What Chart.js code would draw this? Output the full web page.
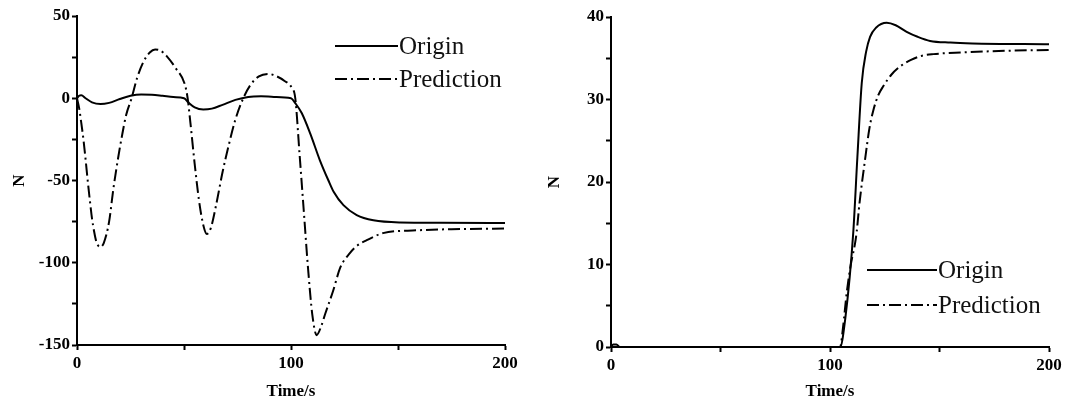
<!DOCTYPE html>
<html>
<head>
<meta charset="utf-8">
<script src="https://cdn.jsdelivr.net/npm/chart.js@4"></script>
<style>
  html, body { margin: 0; padding: 0; background: #fff; }
  #wrap { display: flex; width: 1070px; height: 405px; }
  canvas { display: block; }
</style>
</head>
<body>
<div id="wrap">
  <canvas id="left" width="535" height="405"></canvas>
  <canvas id="right" width="535" height="405"></canvas>
</div>
<script>
// ---------- data ----------
const seriesNames = ["Origin", "Prediction"];
const xAxisTitle = "Time/s";
const yAxisTitle = "N";

// Left panel
const leftOriginX = [0, 1, 2, 4, 7, 11, 15, 20, 25, 30, 35, 40, 45, 50, 52, 55, 59, 63, 68, 74, 80, 86, 92, 100, 102, 105, 109, 113.5, 117.5, 120, 124.5, 130.7, 138.5, 151, 170, 200];
const leftOriginY = [0, 1.5, 1.8, 0, -2.5, -3.5, -2.8, -0.5, 1.5, 2.3, 2.2, 1.5, 0.7, 0, -2.5, -5.5, -6.8, -6.3, -4, -1, 0.8, 1.2, 0.8, 0, -3, -9, -21.5, -37.7, -50, -57, -65, -71, -74.2, -75.5, -75.7, -75.8];
const leftPredX = [0, 1, 2, 3, 4, 5, 6, 7, 8, 9, 10.7, 12.5, 15, 17, 19, 21, 23, 25.5, 28, 31, 34, 36.5, 39, 42, 46, 50.5, 51.7, 53, 55, 57, 59, 60.7, 62.5, 65, 68, 71, 74, 77.7, 81, 85, 89.4, 93, 97, 100.3, 102, 104, 106, 108, 110, 112, 114, 116, 119.7, 123, 127.6, 131, 135.4, 143, 158.6, 175, 200];
const leftPredY = [0, -6, -15, -25, -37, -50, -62, -73, -81, -87, -90.4, -88, -75, -55, -38, -23, -10, 0, 12, 22, 27.8, 29.7, 29, 25.5, 18.5, 8, 0, -15, -40, -62, -77, -82.5, -79, -65, -45, -28, -13, 0, 8, 13.3, 14.8, 13.5, 10.5, 6.5, 0, -34, -69, -104, -132, -144, -139, -131, -117, -103, -94, -89.5, -86.3, -82, -80.3, -79.6, -79.2];

// Right panel
const rightOriginX = [0, 1, 2.5, 4, 104.6, 107, 110.6, 112.5, 114.5, 116.5, 118.3, 121, 125.9, 130, 135, 140, 145.7, 155, 165, 200];
const rightOriginY = [0, 0.3, 0.3, 0, 0, 3.5, 13.8, 23, 32, 35.8, 37.6, 38.7, 39.3, 39, 38.2, 37.6, 37.1, 36.9, 36.8, 36.7];
const rightPredX = [0, 104.6, 106, 107.6, 109.5, 111.4, 112.2, 113.5, 116, 118, 119.8, 122, 124.3, 128, 132, 137, 142, 147.2, 160, 180, 200];
const rightPredY = [0, 0, 2.5, 6.5, 10, 12.5, 14, 17.5, 22.7, 26.5, 28.7, 30.5, 31.6, 33, 34, 34.8, 35.3, 35.5, 35.7, 35.9, 36];

// Axis ranges / ticks
const xRange = [0, 200], xStep = 50, xLabelEvery = 100;
const leftYRange = [-150, 50], leftYStep = 25, leftYLabelEvery = 50;
const rightYRange = [0, 40], rightYStep = 5, rightYLabelEvery = 10;

// ---------- helpers ----------
const SERIF = '"Liberation Serif", "Times New Roman", Times, serif';
function pts(xs, ys) { return xs.map((x, i) => ({ x: x, y: ys[i] })); }

const insideLegend = {
  id: 'insideLegend',
  afterDatasetsDraw(chart, args, opts) {
    const ctx = chart.ctx;
    ctx.save();
    chart.data.datasets.forEach((ds, i) => {
      const y = opts.y + i * opts.rowGap;
      ctx.beginPath();
      ctx.setLineDash(ds.borderDash || []);
      ctx.lineWidth = ds.borderWidth;
      ctx.strokeStyle = ds.borderColor;
      ctx.moveTo(opts.x, y);
      ctx.lineTo(opts.x + opts.lineLen, y);
      ctx.stroke();
      ctx.setLineDash([]);
      ctx.fillStyle = '#111';
      ctx.font = opts.fontSize + 'px ' + SERIF;
      ctx.textBaseline = 'middle';
      ctx.textAlign = 'left';
      ctx.fillText(ds.label, opts.x + opts.lineLen + 1, y + 1);
    });
    ctx.restore();
  }
};

function makeChart(id, originX, originY, predX, predY, yRange, yStep, yLabelEvery, geom) {
  const tickFont = { family: SERIF, size: 17, weight: 'bold' };
  const titleFont = { family: SERIF, size: 17, weight: 'bold' };
  const gridCfg = { display: true, drawOnChartArea: false, drawTicks: true, tickLength: 5, tickWidth: 2, tickColor: '#000' };
  const borderCfg = { display: true, color: '#000', width: 2 };
  return new Chart(document.getElementById(id), {
    type: 'line',
    data: {
      datasets: [
        { label: seriesNames[0], data: pts(originX, originY), borderColor: '#000', borderWidth: 2, pointRadius: 0, cubicInterpolationMode: 'monotone', fill: false },
        { label: seriesNames[1], data: pts(predX, predY), borderColor: '#000', borderWidth: 2, borderDash: [12, 4, 2, 4], pointRadius: 0, cubicInterpolationMode: 'monotone', fill: false }
      ]
    },
    options: {
      responsive: false,
      animation: false,
      events: [],
      layout: { padding: { top: geom.top, right: geom.right, left: 0, bottom: 0 } },
      plugins: {
        legend: { display: false },
        tooltip: { enabled: false },
        insideLegend: { x: geom.legX, y: geom.legY, lineLen: geom.legLen, rowGap: geom.legGap, fontSize: 25 }
      },
      scales: {
        x: {
          type: 'linear', min: xRange[0], max: xRange[1],
          afterFit: s => { s.height = geom.xh; },
          grid: gridCfg, border: borderCfg,
          ticks: { stepSize: xStep, autoSkip: false, maxRotation: 0, color: '#000', font: tickFont, padding: 3,
                   callback: v => (v % xLabelEvery === 0 ? v : '') },
          title: { display: true, text: xAxisTitle, color: '#000', font: titleFont, padding: { top: 0, bottom: 3 } }
        },
        y: {
          type: 'linear', min: yRange[0], max: yRange[1],
          afterFit: s => { s.width = geom.yw; },
          grid: gridCfg, border: borderCfg,
          ticks: { stepSize: yStep, autoSkip: false, color: '#000', font: tickFont, padding: 2,
                   callback: v => (v % yLabelEvery === 0 ? v : '') },
          title: { display: true, text: yAxisTitle, color: '#000', font: titleFont, padding: { top: 9, bottom: 0 } }
        }
      }
    },
    plugins: [insideLegend]
  });
}

makeChart('left', leftOriginX, leftOriginY, leftPredX, leftPredY, leftYRange, leftYStep, leftYLabelEvery,
  { top: 16, right: 30, xh: 60, yw: 77, legX: 335, legY: 46, legLen: 63, legGap: 33 });
makeChart('right', rightOriginX, rightOriginY, rightPredX, rightPredY, rightYRange, rightYStep, rightYLabelEvery,
  { top: 17, right: 21, xh: 58, yw: 76, legX: 332, legY: 270, legLen: 70, legGap: 35 });
</script>
</body>
</html>
